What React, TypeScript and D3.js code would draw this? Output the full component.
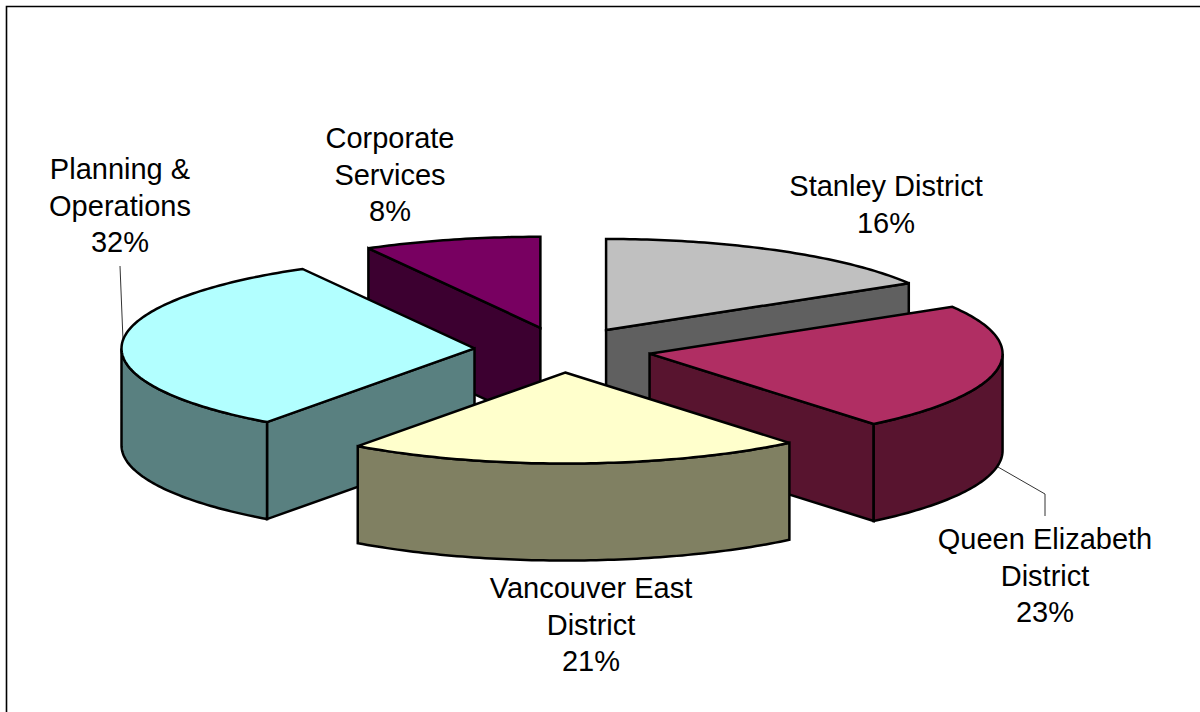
import React from "react";
import * as d3 from "d3";

const categories = ["Stanley District", "Queen Elizabeth District", "Vancouver East District", "Planning & Operations", "Corporate Services"];
const shares = [16.4, 22.65, 20.95, 31.9, 8.1];
const percentLabels = ["16%", "23%", "21%", "32%", "8%"];
const labelLines = [["Stanley District"], ["Queen Elizabeth", "District"], ["Vancouver East", "District"], ["Planning &", "Operations"], ["Corporate", "Services"]];
const topColors = ["#C0C0C0", "#B02E63", "#FFFFCC", "#B2FFFF", "#780061"];
const sideColors = ["#606060", "#58142F", "#808062", "#598080", "#3C0030"];
const labelX = [886, 1045, 591, 120, 390];
const labelY = [196, 549, 598, 179, 148];
const paintOrder = [4, 0, 3, 1, 2];

const W = 1200, H = 712;
const cx = 562.6, cy = 349.8, rx = 353, ry = 91, depth = 97, explode = 0.25;
const leaderLines: [number, number][][] = [
  [[120, 266], [123, 340]],
  [[998, 467], [1045, 494], [1045, 516]],
];

const pieAngles = d3.pie<number>().sort(null)(shares);
const lineGen = d3.line<[number, number]>();
const project = (a: number, ox: number, oy: number): [number, number] => [ox + rx * Math.sin(a), oy - ry * Math.cos(a)];
const sample = (a0: number, a1: number, ox: number, oy: number) => {
  const n = Math.max(2, Math.ceil(Math.abs(a1 - a0) * 60));
  const t = d3.scaleLinear().domain([0, n]).range([a0, a1]);
  return d3.range(n + 1).map((i) => project(t(i), ox, oy));
};

export default function App() {
  return (
    <svg width={W} height={H} viewBox={`0 0 ${W} ${H}`} style={{ position: "absolute", left: 0, top: 0, background: "#fff" }}>
      <path d={`M6.5,${H}V6.5H${W}`} fill="none" stroke="#000" strokeWidth={1.6} />
      {leaderLines.map((l, i) => (
        <path key={i} d={lineGen(l) as string} fill="none" stroke="#333" strokeWidth={1} />
      ))}
      {paintOrder.map((i) => {
        const { startAngle: a0, endAngle: a1 } = pieAngles[i];
        const mid = (a0 + a1) / 2;
        const ox = cx + explode * rx * Math.sin(mid);
        const oy = cy - explode * ry * Math.cos(mid);
        const apex: [number, number] = [ox, oy];
        const walls: [number, number][][] = [];
        if (Math.sin(a0) < -1e-6) {
          const p = project(a0, ox, oy);
          walls.push([apex, p, [p[0], p[1] + depth], [ox, oy + depth]]);
        }
        if (Math.sin(a1) > 1e-6) {
          const p = project(a1, ox, oy);
          walls.push([apex, p, [p[0], p[1] + depth], [ox, oy + depth]]);
        }
        const o0 = Math.max(a0, Math.PI / 2), o1 = Math.min(a1, (3 * Math.PI) / 2);
        const outer: [number, number][] | null = o0 < o1
          ? [...sample(o0, o1, ox, oy), ...sample(o1, o0, ox, oy + depth)]
          : null;
        const top: [number, number][] = [apex, ...sample(a0, a1, ox, oy)];
        const common = { stroke: "#000", strokeWidth: 2.5, strokeLinejoin: "miter" as const, strokeMiterlimit: 2.5 };
        return (
          <g key={categories[i]}>
            {walls.map((w, k) => (
              <path key={k} d={lineGen(w) + "Z"} fill={sideColors[i]} {...common} />
            ))}
            {outer && <path d={lineGen(outer) + "Z"} fill={sideColors[i]} {...common} />}
            <path d={lineGen(top) + "Z"} fill={topColors[i]} {...common} />
          </g>
        );
      })}
      {categories.map((c, i) => (
        <text key={c} x={labelX[i]} y={labelY[i]} textAnchor="middle" fontFamily="Liberation Sans" fontSize={29} fill="#000">
          {[...labelLines[i], percentLabels[i]].map((t, k) => (
            <tspan key={k} x={labelX[i]} dy={k === 0 ? 0 : 36.7}>{t}</tspan>
          ))}
        </text>
      ))}
    </svg>
  );
}
